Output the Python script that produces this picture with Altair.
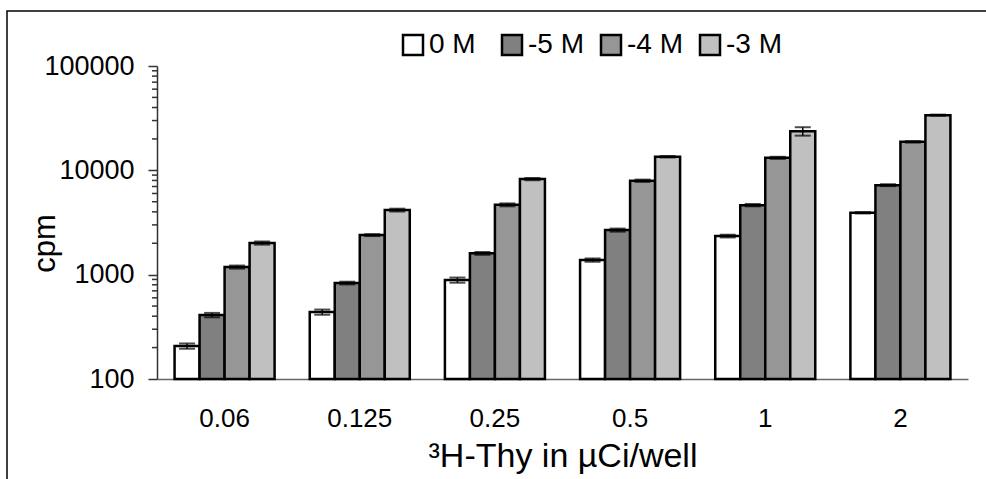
import altair as alt
import pandas as pd

# Thymidine dose per well (x categories) and the four concentration series
doses = ["0.06", "0.125", "0.25", "0.5", "1", "2"]
series = ["0 M", "-5 M", "-4 M", "-3 M"]

# Mean counts per minute for each series, one value per dose
cpm_0 = [207, 438, 888, 1380, 2344, 3920]
cpm_5 = [410, 831, 1600, 2675, 4640, 7210]
cpm_4 = [1183, 2395, 4670, 7950, 13180, 18750]
cpm_3 = [2010, 4160, 8240, 13490, 23700, 33800]

# Standard deviations for each series
err_0 = [12, 25, 50, 50, 70, 60]
err_5 = [20, 25, 50, 90, 120, 150]
err_4 = [40, 50, 150, 200, 300, 300]
err_3 = [70, 130, 200, 250, 2200, 400]

fills = ["#FFFFFF", "#808080", "#969696", "#C0C0C0"]

major_ticks = [100, 1000, 10000, 100000]
minor_ticks = [200, 300, 400, 500, 600, 700, 800, 900,
               2000, 3000, 4000, 5000, 6000, 7000, 8000, 9000,
               20000, 30000, 40000, 50000, 60000, 70000, 80000, 90000]

rows = []
for name, vals, errs in zip(series, [cpm_0, cpm_5, cpm_4, cpm_3],
                            [err_0, err_5, err_4, err_3]):
    for d, v, e in zip(doses, vals, errs):
        rows.append({"dose": d, "series": name, "cpm": v,
                     "lo": v - e, "hi": v + e})
df = pd.DataFrame(rows)

FONT = "Liberation Sans"
BASELINE = 100  # bars rise from the bottom of the log axis

y_scale = alt.Scale(type="log", domain=[100, 100000], nice=False)
y_axis = alt.Axis(values=major_ticks, format="d", tickSize=9, tickWidth=1.5,
                  tickColor="#333", domainColor="#333", domainWidth=1.5,
                  labelFontSize=27, labelFont=FONT, labelColor="black",
                  labelPadding=14, grid=False,
                  titleFontSize=31, titleFont=FONT, titleFontWeight="normal",
                  titleColor="black", titleX=-96, titleY=177)

x_enc = alt.X("dose:N", sort=doses, title="³H-Thy in µCi/well",
              scale=alt.Scale(paddingInner=0.26, paddingOuter=0.13),
              axis=alt.Axis(labelAngle=0, ticks=False, domainColor="#666",
                            domainWidth=1.5, labelFontSize=26, labelFont=FONT,
                            labelColor="black", labelPadding=26,
                            titleFontSize=34, titleFont=FONT,
                            titleFontWeight="normal", titleColor="black",
                            titlePadding=8))
off_enc = alt.XOffset("series:N", sort=series)

base = alt.Chart(df).encode(x=x_enc, xOffset=off_enc)

bars = base.mark_bar(stroke="black", strokeWidth=2.5).encode(
    y=alt.Y("cpm:Q", scale=y_scale, axis=y_axis, title="cpm", stack=None),
    y2=alt.Y2(datum=BASELINE),
    color=alt.Color(
        "series:N", sort=series,
        scale=alt.Scale(domain=series, range=fills),
        legend=alt.Legend(
            title=None, orient="none", legendX=242, legendY=-35,
            direction="horizontal", symbolType="square", symbolSize=400,
            symbolStrokeColor="black", symbolStrokeWidth=2.5,
            symbolOpacity=1, labelFontSize=28, labelFont=FONT,
            labelColor="black", labelOffset=2, columnPadding=12,
            gridAlign="all",
        ),
    ),
)

err_line = base.mark_rule(color="black", strokeWidth=1.5).encode(
    y=alt.Y("lo:Q", scale=y_scale, title="cpm"), y2="hi:Q")
cap_lo = base.mark_tick(color="black", thickness=2, size=16).encode(
    y=alt.Y("lo:Q", scale=y_scale, title="cpm"))
cap_hi = base.mark_tick(color="black", thickness=2, size=16).encode(
    y=alt.Y("hi:Q", scale=y_scale, title="cpm"))

minor = alt.Chart(pd.DataFrame({"v": minor_ticks})).mark_rule(
    color="#333", strokeWidth=1.5).encode(
    y=alt.Y("v:Q", scale=y_scale, title="cpm"),
    x=alt.value(-5), x2=alt.value(0))

frame = alt.Chart(pd.DataFrame({"a": [0]})).mark_rect(
    filled=False, stroke="black", strokeWidth=1.5).encode(
    x=alt.value(-150), x2=alt.value(845), y=alt.value(-55), y2=alt.value(430))

chart = alt.layer(frame, bars, err_line, cap_lo, cap_hi, minor).properties(
    width=811, height=313,
    autosize=alt.AutoSizeParams(type="none"),
    padding={"left": 157, "top": 66, "right": 18, "bottom": 100},
    background="white",
).configure_view(stroke=None)

chart.save("out.html", embed_options={"renderer": "svg", "actions": False})
